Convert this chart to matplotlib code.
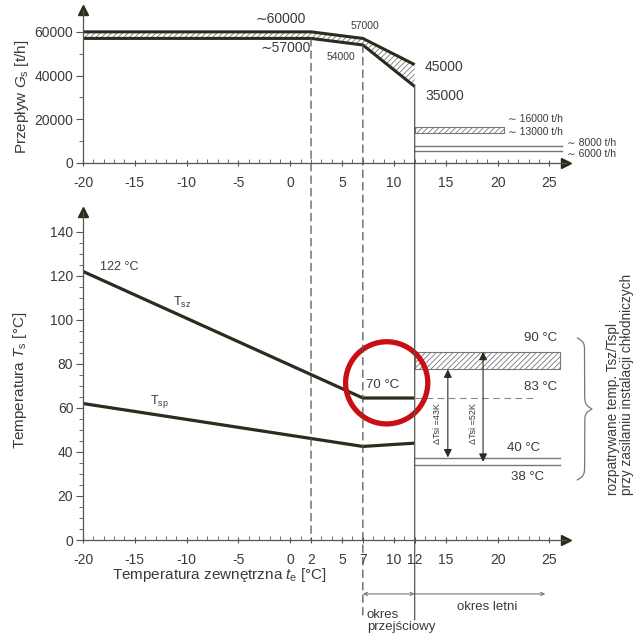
import numpy as np
import matplotlib
matplotlib.use("Agg")
import matplotlib.pyplot as plt
import matplotlib.transforms as mtransforms
from matplotlib.patches import ConnectionPatch

plt.rcParams['font.family'] = ['Liberation Sans', 'DejaVu Sans']
plt.rcParams['mathtext.fontset'] = 'custom'
plt.rcParams['mathtext.rm'] = 'Liberation Sans'
plt.rcParams['mathtext.it'] = 'Liberation Sans:italic'
plt.rcParams['axes.unicode_minus'] = False
plt.rcParams['hatch.linewidth'] = 0.6

# --- data ---
# flow chart (top)
t_flow = [-20, 2, 7, 12]
g_max = [60000, 60000, 57000, 45000]
g_min = [57000, 57000, 54000, 35000]
t_summer_band = [12, 20.6]
g_summer_band = [13500, 16500]
t_summer_lines = [12, 26.2]
g_summer_lines = [7800, 5600]

# temperature chart (bottom)
t_temp = [-20, 7, 12]
t_supply = [122, 64.5, 64.5]
t_return = [62, 42.5, 44]
t_cool_band = [12, 26]
cool_band = [77.5, 85.5]
cool_lines = [37.3, 34]
dt_x = [15.2, 18.6]
dt_top = [77.5, 85.5]
dt_bot = [37.5, 35.5]
dt_labels = ['ΔTsi =43K', 'ΔTsi =52K']

x_major = [-20, -15, -10, -5, 0, 5, 10, 15, 20, 25]
x_major_bot = [-20, -15, -10, -5, 0, 2, 5, 7, 10, 12, 15, 20, 25]
x_max = 26.6

line_c = '#2d2a1e'
gray = '#555555'
txt = '#3a3a3a'

fig = plt.figure(figsize=(6.35, 6.35), dpi=100)
ax_top = fig.add_axes([83 / 635, 1 - 163 / 635, 483 / 635, 153 / 635])
ax_bot = fig.add_axes([83 / 635, 1 - 540 / 635, 483 / 635, 328 / 635])


def style_axis(ax, ymax, xticks, yticks, yminor):
    ax.set_xlim(-20, x_max)
    ax.set_ylim(0, ymax)
    for s in ['top', 'right']:
        ax.spines[s].set_visible(False)
    for s in ['left', 'bottom']:
        ax.spines[s].set_color(gray)
        ax.spines[s].set_linewidth(0.9)
    ax.set_xticks(xticks)
    ax.set_xticks(np.arange(-20, 26, 1), minor=True)
    ax.set_yticks(yticks)
    ax.set_yticks(yminor, minor=True)
    ax.tick_params(axis='x', which='major', direction='inout', length=5, pad=7,
                   labelsize=10, labelcolor=txt, color=gray)
    ax.tick_params(axis='x', which='minor', direction='in', length=3, color=gray)
    ax.tick_params(axis='y', which='major', direction='out', length=5, pad=2,
                   labelsize=10, labelcolor=txt, color=gray)
    ax.tick_params(axis='y', which='minor', direction='out', length=3, color=gray)
    # arrow heads at the axis ends
    ax.plot(1, 0, '>', color=line_c, ms=7, transform=ax.get_yaxis_transform(), clip_on=False)
    ax.plot(0, 1, '^', color=line_c, ms=7, transform=ax.transAxes, clip_on=False)


style_axis(ax_top, 70000, x_major, [0, 20000, 40000, 60000], np.arange(0, 70000, 10000))
style_axis(ax_bot, 149, x_major_bot, np.arange(0, 141, 20), np.arange(0, 141, 5))

# --- top: flow ---
ax_top.fill_between(t_flow, g_min, g_max, facecolor='white', edgecolor='#777777', hatch='//////', lw=0)
ax_top.plot(t_flow, g_max, color=line_c, lw=2.2, solid_capstyle='butt')
ax_top.plot(t_flow, g_min, color=line_c, lw=2.2, solid_capstyle='butt')
ax_top.fill_between(t_summer_band, g_summer_band[0], g_summer_band[1], facecolor='white',
                    edgecolor='#777777', hatch='//////', lw=0.8)
for g in g_summer_lines:
    ax_top.plot(t_summer_lines, [g, g], color='#777777', lw=1)

fs_small = 7.5
ax_top.text(-3.4, 65900, '∼60000', fontsize=10, color=txt, va='center')
ax_top.text(-2.9, 52800, '∼57000', fontsize=10, color=txt, va='center')
ax_top.text(5.8, 62700, '57000', fontsize=7.5, color=txt, va='center')
ax_top.text(3.5, 48500, '54000', fontsize=7.5, color=txt, va='center')
ax_top.text(13.0, 44000, '45000', fontsize=10, color=txt, va='center')
ax_top.text(13.0, 30700, '35000', fontsize=10, color=txt, va='center')
ax_top.text(21.0, 20100, '∼ 16000 t/h', fontsize=fs_small, color=txt, va='center')
ax_top.text(21.0, 14200, '∼ 13000 t/h', fontsize=fs_small, color=txt, va='center')
ax_top.text(26.7, 9200, '∼ 8000 t/h', fontsize=fs_small, color=txt, va='center')
ax_top.text(26.7, 4100, '∼ 6000 t/h', fontsize=fs_small, color=txt, va='center')
fig.text(22 / 635, 1 - 97 / 635, r'Przepływ $G_{\mathrm{s}}$ [t/h]', rotation=90,
         fontsize=11, color=txt, ha='center', va='center')

# --- bottom: temperatures ---
ax_bot.plot(t_temp, t_supply, color=line_c, lw=2.3, solid_capstyle='butt')
ax_bot.plot(t_temp, t_return, color=line_c, lw=2.3, solid_capstyle='butt')
ax_bot.fill_between(t_cool_band, cool_band[0], cool_band[1], facecolor='white',
                    edgecolor='#777777', hatch='//////', lw=0.8)
for v in cool_lines:
    ax_bot.plot(t_cool_band, [v, v], color='#777777', lw=1)
ax_bot.plot([12, 23.8], [t_supply[-1], t_supply[-1]], color='#888888', lw=0.8, ls=(0, (6, 4)))

for x, y0, y1, lab in zip(dt_x, dt_top, dt_bot, dt_labels):
    ax_bot.annotate('', xy=(x, y0), xytext=(x, y1),
                    arrowprops=dict(arrowstyle='<|-|>', color=line_c, lw=0.8,
                                    mutation_scale=12, shrinkA=0, shrinkB=0))
    ax_bot.text(x - 0.95, 53, lab, rotation=90, fontsize=6.5, color=txt, ha='center', va='center')

ax_bot.text(-18.4, 124, '122 °C', fontsize=9, color=txt, va='center')
ax_bot.text(-11.3, 108, r'T$_{\mathrm{sz}}$', fontsize=9, color=txt, va='center')
ax_bot.text(-13.5, 62.7, r'T$_{\mathrm{sp}}$', fontsize=9, color=txt, va='center')
ax_bot.text(8.9, 70.5, '70 °C', fontsize=9.5, color=txt, ha='center', va='center')
ax_bot.text(24.1, 91.8, '90 °C', fontsize=9.5, color=txt, ha='center', va='center')
ax_bot.text(24.1, 69.5, '83 °C', fontsize=9.5, color=txt, ha='center', va='center')
ax_bot.text(22.5, 41.8, '40 °C', fontsize=9.5, color=txt, ha='center', va='center')
ax_bot.text(22.9, 28.6, '38 °C', fontsize=9.5, color=txt, ha='center', va='center')

# brace
y_lo, y_hi = 27.3, 91.8
yy = np.linspace(y_lo, y_hi, 401)
half = yy[:201]
beta = 1.0
xh = 1 / (1 + np.exp(-beta * (half - half[0]))) + 1 / (1 + np.exp(-beta * (half - half[-1])))
xb = np.concatenate((xh, xh[-2::-1]))
ax_bot.plot(27.7 + (xb - 0.5) * 1.4, yy, color='#777777', lw=0.9, clip_on=False)

ax_bot.text(31.1, 20.5, 'rozpatrywane temp. Tsz/Tspl', rotation=90, fontsize=9.8,
            color=txt, ha='center', va='bottom', clip_on=False)
ax_bot.text(32.5, 20.5, 'przy zasilaniu instalacji chłodniczych', rotation=90, fontsize=9.8,
            color=txt, ha='center', va='bottom', clip_on=False)

fig.text(20 / 635, 1 - 380 / 635, r'Temperatura $T_{\mathrm{s}}$ [°C]', rotation=90,
         fontsize=11, color=txt, ha='center', va='center')
ax_bot.text(-6.8, -15.9, r'Temperatura zewnętrzna $t_{\mathrm{e}}$ [°C]', fontsize=11,
            color=txt, ha='center', va='center', clip_on=False)

# period marks under the axis
ax_bot.annotate('', xy=(7, -24.5), xytext=(12, -24.5), annotation_clip=False,
                arrowprops=dict(arrowstyle='<->', color='#777777', lw=0.8, shrinkA=0, shrinkB=0,
                                mutation_scale=6))
ax_bot.annotate('', xy=(12, -24.5), xytext=(24.6, -24.5), annotation_clip=False,
                arrowprops=dict(arrowstyle='<-', color='#777777', lw=0.8, shrinkA=0, shrinkB=0,
                                mutation_scale=6))
ax_bot.text(19.0, -30.5, 'okres letni', fontsize=9.5, color=txt, ha='center', va='center')
ax_bot.text(7.4, -34, 'okres', fontsize=9.5, color=txt, ha='left', va='center')
ax_bot.text(7.4, -39.5, 'przejściowy', fontsize=9.5, color=txt, ha='left', va='center')

# vertical guide lines running through both charts
below = mtransforms.blended_transform_factory(ax_bot.transData, ax_bot.transAxes)
dash = (0, (6, 4))
fig.add_artist(ConnectionPatch(xyA=(2, g_min[1]), coordsA=ax_top.transData,
                               xyB=(2, 0), coordsB=ax_bot.transData,
                               color=gray, lw=0.9, linestyle=dash))
fig.add_artist(ConnectionPatch(xyA=(7, g_min[2]), coordsA=ax_top.transData,
                               xyB=(7, -0.238), coordsB=below,
                               color=gray, lw=0.9, linestyle=dash))
fig.add_artist(ConnectionPatch(xyA=(12, g_min[3]), coordsA=ax_top.transData,
                               xyB=(12, -0.244), coordsB=below,
                               color=gray, lw=0.9))

# red highlight circle around the 70 °C label
ax_bot.scatter([9.3], [71.4], s=3500, facecolors='none', edgecolors='#c80f14',
               linewidths=3.8, zorder=10, clip_on=False)

fig.savefig('out.png', dpi=100, facecolor='white')
